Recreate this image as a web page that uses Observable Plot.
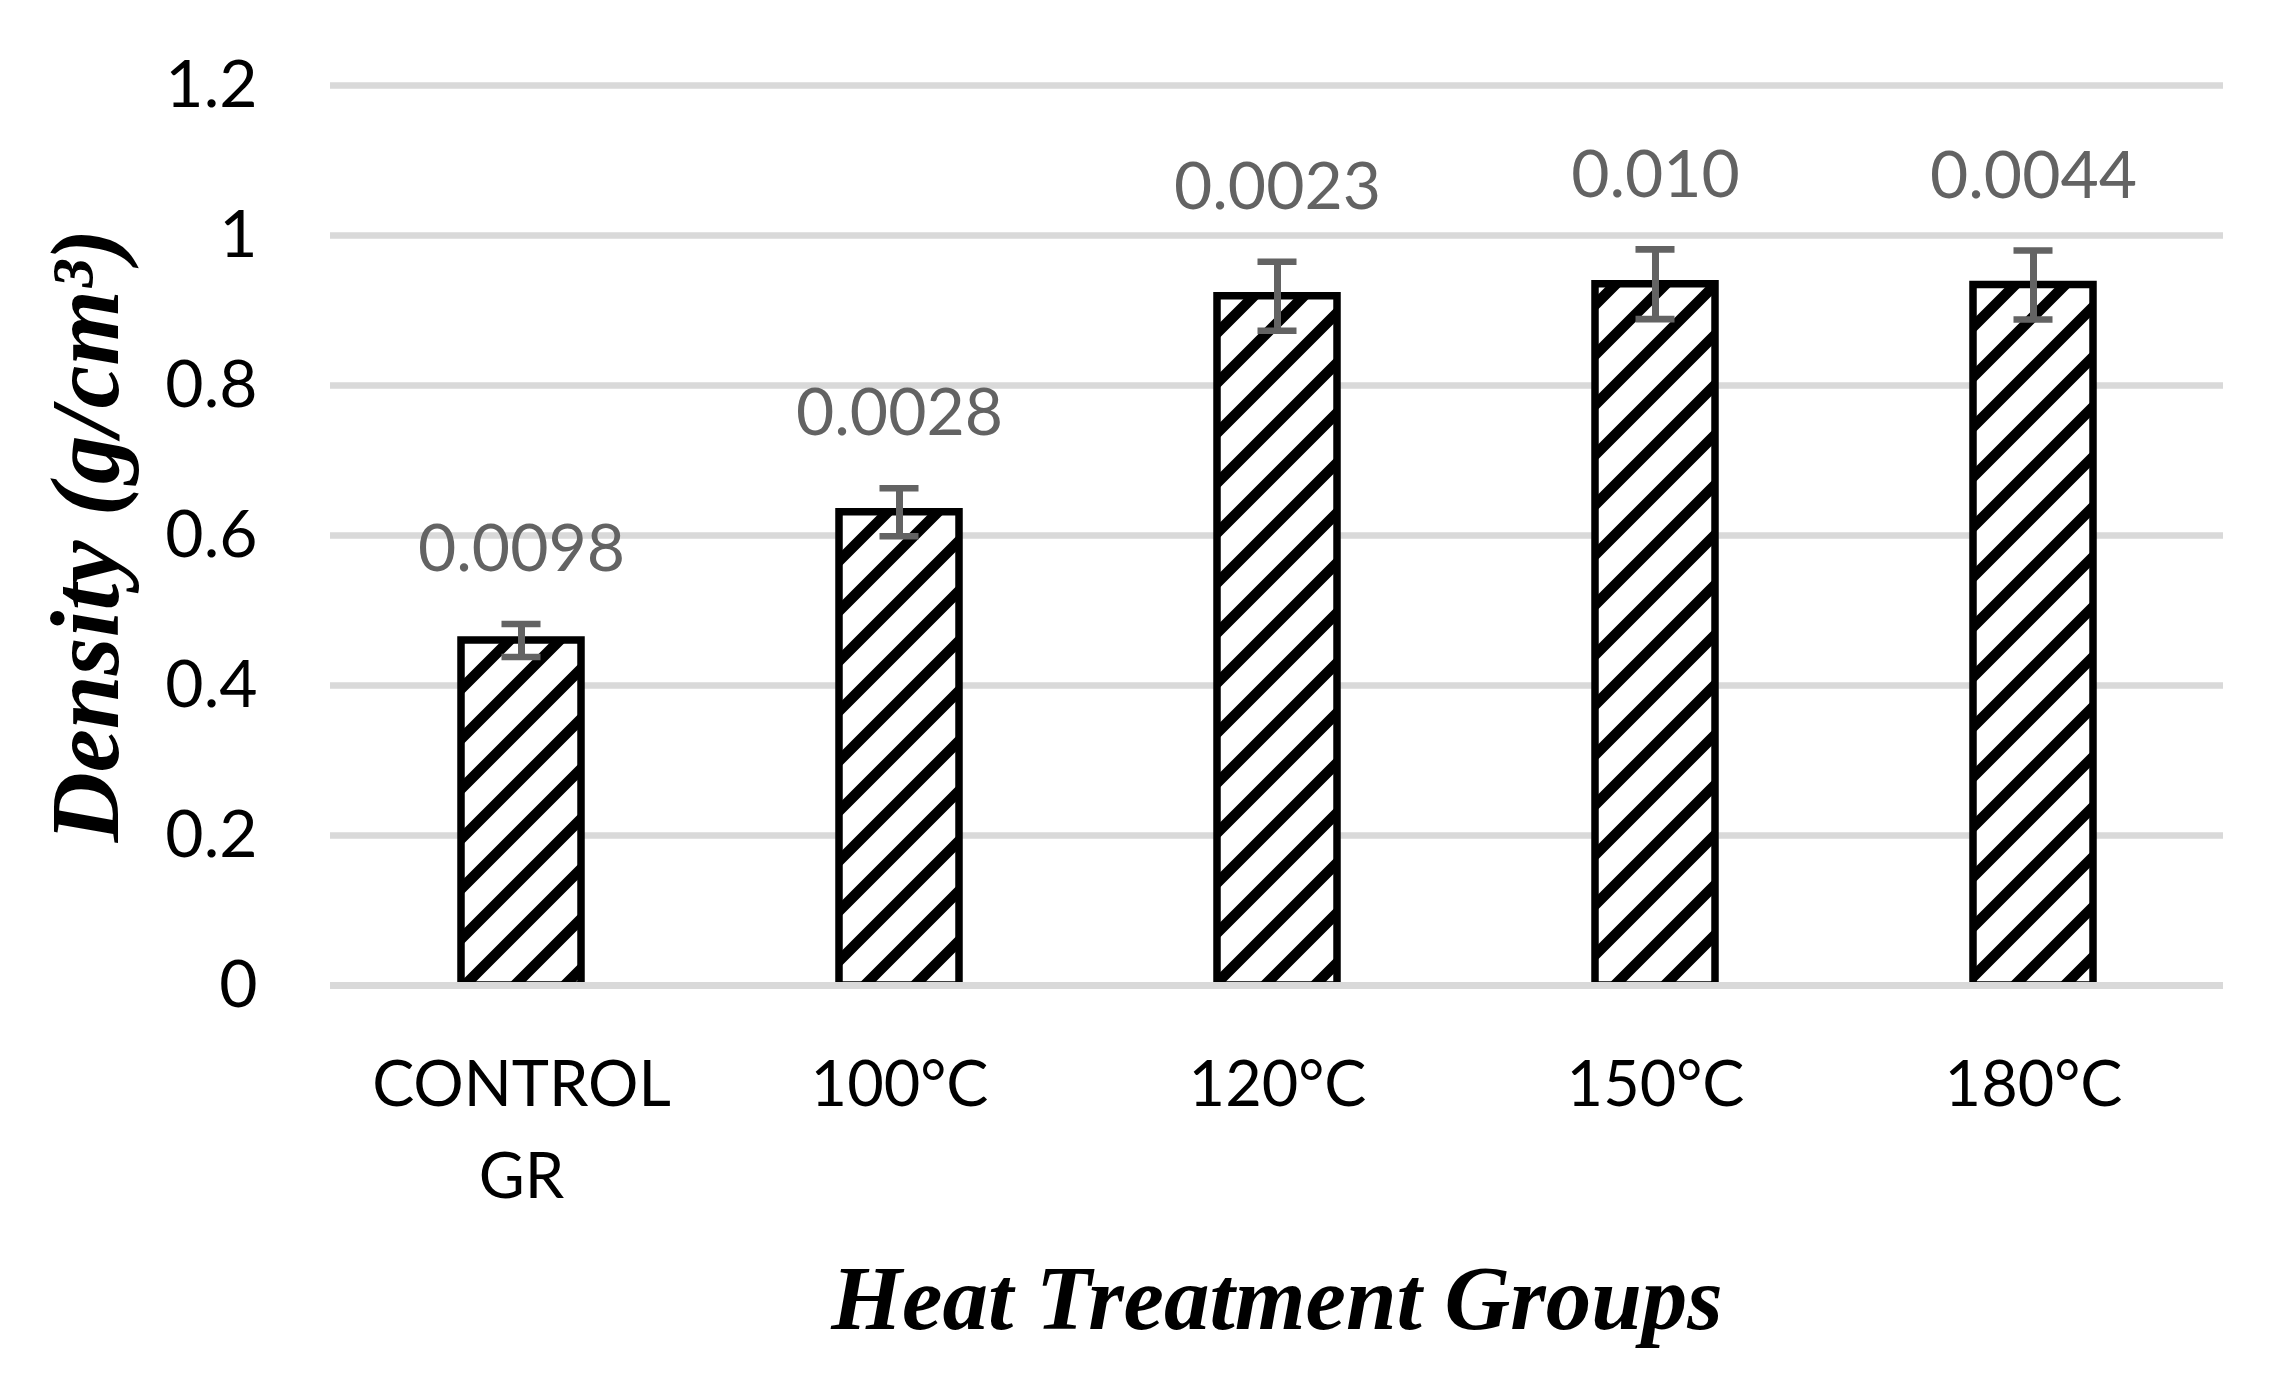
<!DOCTYPE html>
<html>
<head>
<meta charset="utf-8">
<script src="https://cdn.jsdelivr.net/npm/d3@7"></script>
<script src="https://cdn.jsdelivr.net/npm/@observablehq/plot@0.6"></script>
<style>
  html, body { margin: 0; padding: 0; background: #ffffff; }
  #chart { width: 2283px; height: 1388px; }
</style>
</head>
<body>
<div id="chart"></div>
<script>
// ---- data ----
const categories = ["CONTROL GR", "100°C", "120°C", "150°C", "180°C"];
const tickLine1 = ["CONTROL", "100°C", "120°C", "150°C", "180°C"];
const tickLine2 = ["GR", "", "", "", ""];
const density = [0.46, 0.631, 0.919, 0.935, 0.934];
const errors = [0.022, 0.032, 0.046, 0.0465, 0.046];
const valueLabels = ["0.0098", "0.0028", "0.0023", "0.010", "0.0044"];
const yTicks = [0, 0.2, 0.4, 0.6, 0.8, 1, 1.2];
const yTitle = "Density (g/cm³)";
const xTitle = "Heat Treatment Groups";

const rows = categories.map((c, i) => ({
  cat: c, v: density[i], e: errors[i], label: valueLabels[i],
  l1: tickLine1[i], l2: tickLine2[i]
}));

const labelFont = 66;
const catFont = 63;
const serif = "'Liberation Serif', 'Times New Roman', serif";
const errColor = "#636363";

const svg = Plot.plot({
  width: 2283,
  height: 1388,
  marginLeft: 330,
  marginRight: 60,
  marginTop: 85,
  marginBottom: 403,
  style: {
    fontFamily: "Lato, 'Open Sans', sans-serif",
    fontSize: labelFont + "px",
    background: "#ffffff",
    color: "#000000"
  },
  x: {
    domain: categories,
    axis: null,
    paddingInner: 0.683,
    paddingOuter: 0.3415,
    align: 0.5
  },
  y: {
    domain: [0, 1.2],
    ticks: yTicks,
    tickSize: 0,
    tickPadding: 73,
    tickFormat: d => String(d),
    label: null
  },
  marks: [
    // gridlines behind bars
    Plot.ruleY(yTicks.filter(t => t !== 0), {stroke: "#d9d9d9", strokeWidth: 6.5}),
    // hatched bars
    Plot.barY(rows, {
      x: "cat", y: "v",
      fill: "url(#hatch)",
      stroke: "#000000",
      strokeWidth: 7.5
    }),
    // horizontal axis line (on top of bars)
    Plot.ruleY([0], {stroke: "#d9d9d9", strokeWidth: 7}),
    // error bars
    Plot.ruleX(rows, {x: "cat", y1: d => d.v - d.e, y2: d => d.v + d.e, stroke: errColor, strokeWidth: 7}),
    Plot.tickY(rows, {x: "cat", y: d => d.v + d.e, stroke: errColor, strokeWidth: 6.7, insetLeft: 40.5, insetRight: 40.5}),
    Plot.tickY(rows, {x: "cat", y: d => d.v - d.e, stroke: errColor, strokeWidth: 6.7, insetLeft: 40.5, insetRight: 40.5}),
    // value labels above error bars
    Plot.text(rows, {
      x: "cat", y: d => d.v + d.e, text: "label",
      textAnchor: "middle", lineAnchor: "middle",
      dy: -74, fill: errColor, fontSize: labelFont
    }),
    // category tick labels (two lines)
    Plot.text(rows, {
      x: "cat", text: "l1", frameAnchor: "bottom",
      textAnchor: "middle", lineAnchor: "middle",
      dy: 100, fill: "#000000", fontSize: catFont
    }),
    Plot.text(rows, {
      x: "cat", text: "l2", frameAnchor: "bottom",
      textAnchor: "middle", lineAnchor: "middle",
      dy: 192, fill: "#000000", fontSize: catFont
    }),
    // axis titles
    Plot.text([xTitle], {
      text: d => d, frameAnchor: "bottom",
      textAnchor: "middle", lineAnchor: "middle",
      dy: 314, fontSize: 91, fontFamily: serif,
      fontWeight: "bold", fontStyle: "italic", fill: "#000000"
    }),
    Plot.text([yTitle], {
      text: d => d, frameAnchor: "left", rotate: -90,
      textAnchor: "middle", lineAnchor: "middle",
      dx: -244, fontSize: 97, fontFamily: serif,
      fontWeight: "bold", fontStyle: "italic", fill: "#000000"
    })
  ]
});

// hatch pattern definition (wide upward diagonal)
const ns = "http://www.w3.org/2000/svg";
const defs = document.createElementNS(ns, "defs");
const pat = document.createElementNS(ns, "pattern");
pat.setAttribute("id", "hatch");
pat.setAttribute("patternUnits", "userSpaceOnUse");
pat.setAttribute("width", "50");
pat.setAttribute("height", "50");
const bg = document.createElementNS(ns, "rect");
bg.setAttribute("width", "50");
bg.setAttribute("height", "50");
bg.setAttribute("fill", "#ffffff");
pat.appendChild(bg);
const p = document.createElementNS(ns, "path");
p.setAttribute("d", "M-5,55 L55,-5 M-15,15 L15,-15 M35,65 L65,35");
p.setAttribute("stroke", "#000000");
p.setAttribute("stroke-width", "10.6");
pat.appendChild(p);
defs.appendChild(pat);
svg.insertBefore(defs, svg.firstChild);

document.getElementById("chart").appendChild(svg);
</script>
</body>
</html>
